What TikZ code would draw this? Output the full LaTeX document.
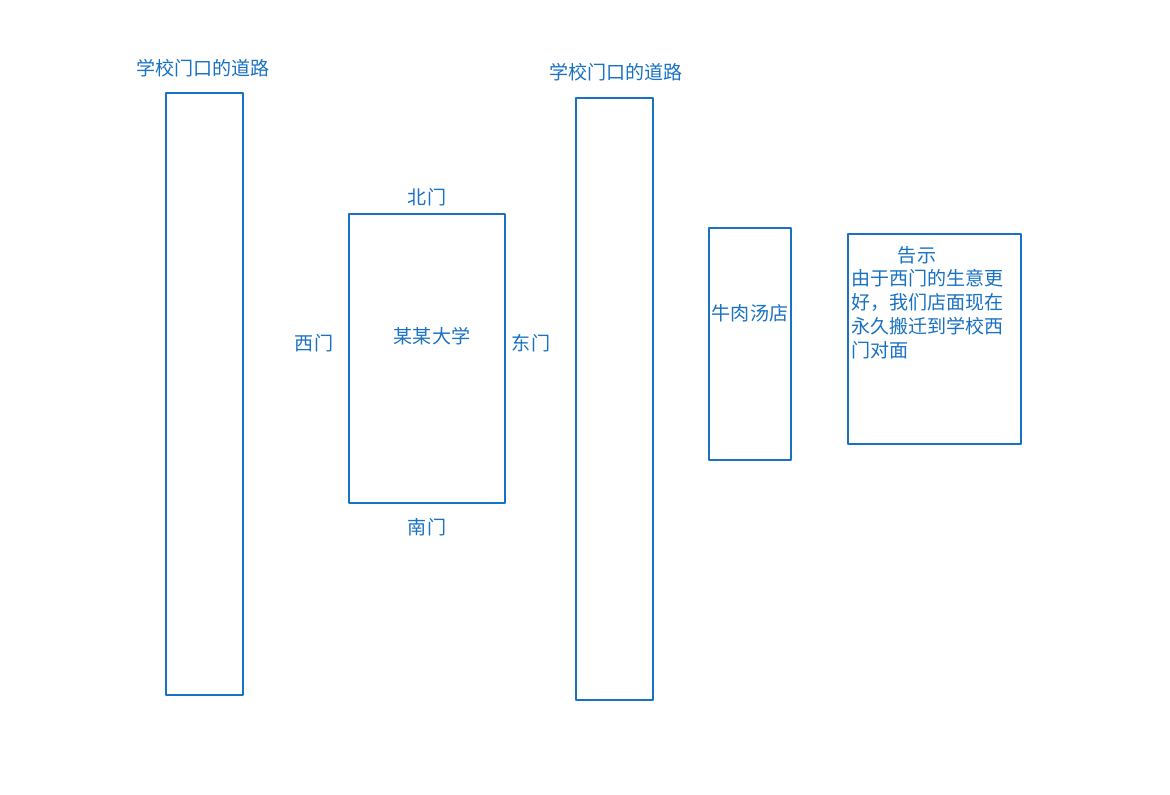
\documentclass[tikz,border=0pt]{standalone}
\usepackage{fontspec}
\newfontfamily\cjk{Noto Sans CJK SC}
\usetikzlibrary{positioning}
\definecolor{penblue}{HTML}{1971C2}
\tikzset{
  box/.style={draw=penblue, line width=1.9pt, line join=round},
  lbl/.style={text=penblue, font=\cjk\fontsize{14.3}{18}\selectfont, inner sep=0pt}
}

\begin{document}
\begin{tikzpicture}[x=0.75pt, y=-0.75pt]
    \useasboundingbox (0,0) rectangle (1170,795);
    % 道路
    \draw[box] (166,93) rectangle (243,695);
    \node[lbl] (road1) at (203,68) {学校门口的道路};
    \draw[box] (576,98) rectangle (653,700);
    \node[lbl] (road2) at (616,72) {学校门口的道路};
    % 大学
    \draw[box] (349,214) rectangle (505,503);
    \node[lbl] (uni) at (432,336) {某某大学};
    \node[lbl] (north) at (427,197) {北门};
    \node[lbl] (south) at (427,527) {南门};
    \node[lbl] (west) at (314,343) {西门};
    \node[lbl] (east) at (531,343) {东门};
    % 牛肉汤店
    \draw[box] (709,228) rectangle (791,460);
    \node[lbl] (shop) at (750,313) {牛肉汤店};
    % 告示
    \draw[box] (848,234) rectangle (1021,444);
    \node[lbl] (title) at (917,255) {告示};
    \node[lbl, anchor=north west, align=left] (notice) at (851,269)
        {由于西门的生意更\\好，我们店面现在\\永久搬迁到学校西\\门对面};
\end{tikzpicture}
\end{document}
